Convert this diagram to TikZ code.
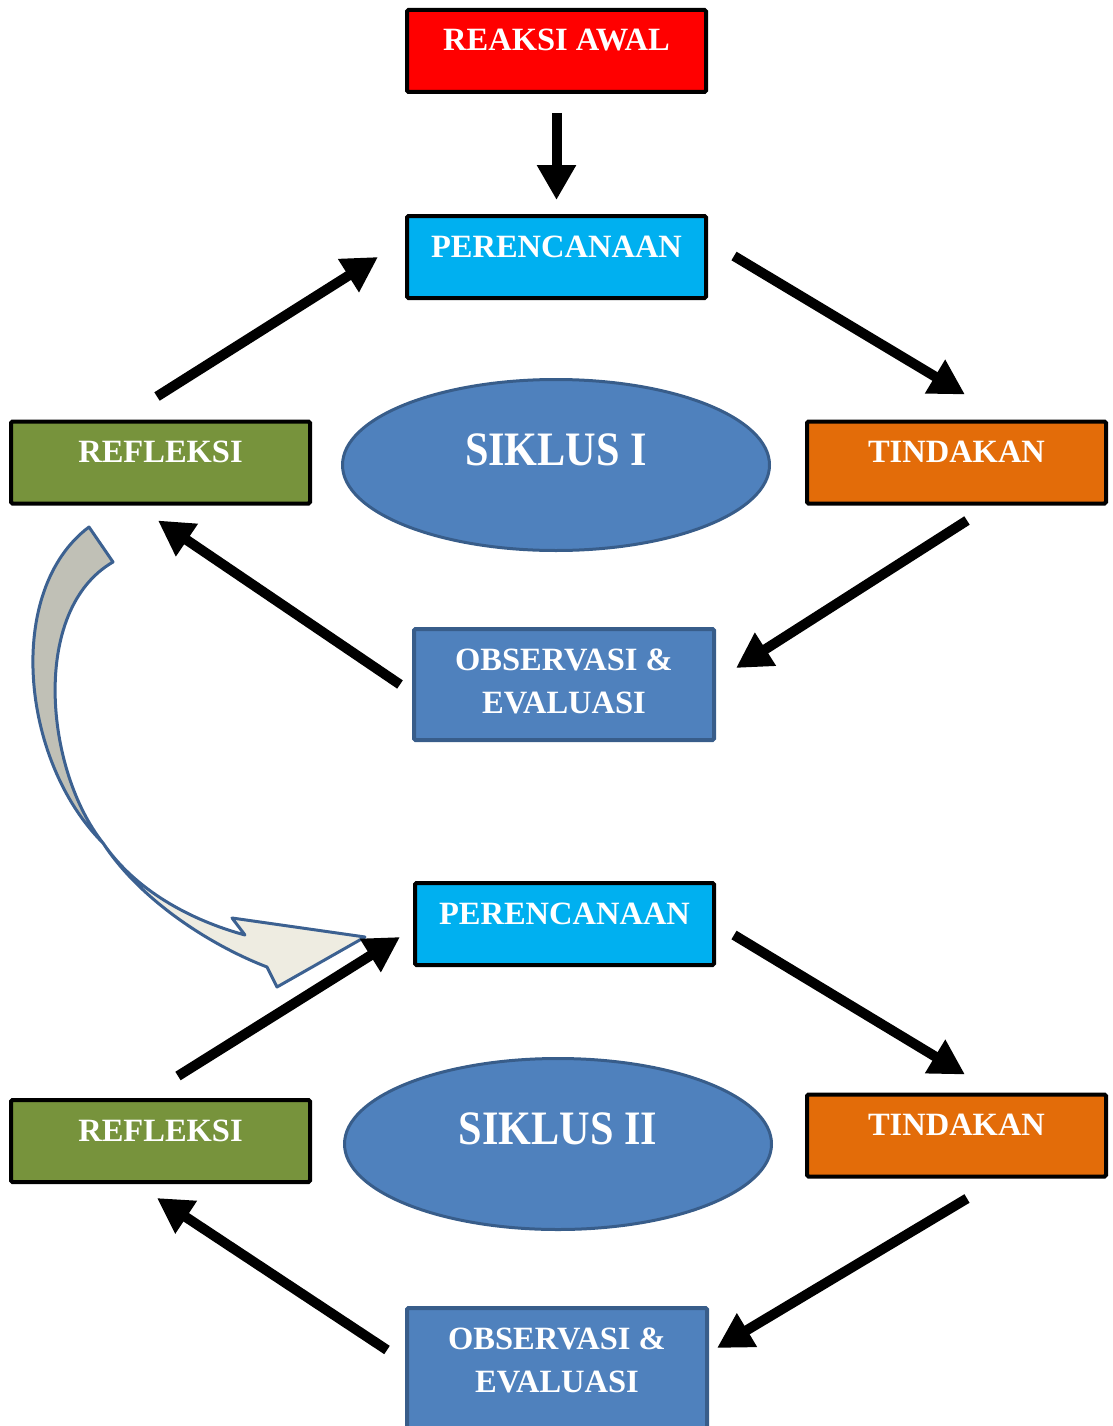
\documentclass[tikz,border=0pt]{standalone}
\usepackage{fontspec}
\setmainfont{Liberation Serif}
\usetikzlibrary{arrows.meta,shapes.geometric,calc}
\definecolor{cRed}{HTML}{FF0000}
\definecolor{cCyan}{HTML}{00B0F0}
\definecolor{cGreen}{HTML}{77933C}
\definecolor{cOrange}{HTML}{E36C09}
\definecolor{cBlue}{HTML}{4F81BD}
\definecolor{cDark}{HTML}{385D8A}
\definecolor{cBend}{HTML}{3C6191}
\definecolor{cGrey}{RGB}{192,192,182}
\definecolor{cBeige}{HTML}{EEECE1}
\begin{document}
\begin{tikzpicture}[x=1pt,y=-1pt,
  box/.style={draw=black,line width=4pt,rounded corners=1.5pt,minimum width=299pt,minimum height=82pt,inner sep=0pt,text height=0pt,text depth=0pt,text=white,font=\fontsize{32.5}{38}\selectfont\bfseries},
  obsbox/.style={draw=cDark,fill=cBlue,line width=4pt,rounded corners=1.5pt,minimum width=300pt,inner sep=0pt,align=center,text=white,font=\fontsize{32.5}{43}\selectfont\bfseries},
  cyc/.style={ellipse,draw=cDark,fill=cBlue,line width=3pt,minimum width=427pt,minimum height=171pt,inner sep=0pt,text height=0pt,text depth=0pt,text=white,font=\fontsize{48}{56}\selectfont\bfseries},
  flow/.style={line width=10pt,-{Triangle[length=35pt,width=37pt]}},
  curvearrow/.style={draw=cBend,line width=3pt,line join=round}
]
\useasboundingbox (0,0) rectangle (1112,1426);

% cycle I
\node[box,fill=cRed] (rea) at (556.5,51) {REAKSI AWAL};
\node[box,fill=cCyan] (p1) at (556.5,257) {PERENCANAAN};
\node[box,fill=cGreen] (r1) at (160.5,462.5) {REFLEKSI};
\node[box,fill=cOrange] (t1) at (956.5,462.5) {TINDAKAN};
\node[cyc] (s1) at (556,465) {\scalebox{0.88}[1]{SIKLUS I}};
\node[obsbox,minimum height=111pt] (o1) at (564,684.5) {OBSERVASI \&\\EVALUASI\rule[-7pt]{0pt}{0pt}};

% cycle II
\node[box,fill=cCyan] (p2) at (564.5,924) {PERENCANAAN};
\node[box,fill=cGreen] (r2) at (160.5,1141) {REFLEKSI};
\node[box,fill=cOrange] (t2) at (956.5,1135.5) {TINDAKAN};
\node[cyc] (s2) at (558,1144) {\scalebox{0.88}[1]{SIKLUS II}};
\node[obsbox,minimum height=130pt] (o2) at (557,1373) {OBSERVASI \&\\EVALUASI\rule[-26pt]{0pt}{0pt}};

% curved transition arrow
\filldraw[curvearrow,fill=cGrey] (89,527) .. controls (5,590) and (20,760) .. (103,843)
  .. controls (45,770) and (30,610) .. (113,562) -- cycle;
\filldraw[curvearrow,fill=cBeige] (103,843) .. controls (140,900) and (210,945) .. (267,967)
  -- (277,987) -- (365,937) -- (232,918) -- (245,935)
  .. controls (190,920) and (135,890) .. (103,843) -- cycle;

% arrows
\draw[flow] ($(rea.south)+(0,19)$) -- ($(p1.north)+(0,-14)$);
\draw[flow] ($(r1.north)+(-3.5,-23)$) -- ($(p1.west)+(-27,0)$);
\draw[flow] ($(p1.east)+(26,-1)$) -- ($(t1.north)+(8.5,-25)$);
\draw[flow] ($(t1.south)+(10.5,15)$) -- ($(o1.east)+(20,-16.5)$);
\draw[flow] ($(o1.west)+(-12,0)$) -- ($(r1.south)+(-2.5,15)$);

\draw[flow] ($(r2.north)+(17.5,-22)$) -- ($(p2.west)+(-13,13)$);
\draw[flow] ($(p2.east)+(18,11)$) -- ($(t2.north)+(8.5,-18)$);
\draw[flow] ($(t2.south)+(10.5,20)$) -- ($(o2.east)+(8,-25)$);
\draw[flow] ($(o2.west)+(-18,-23)$) -- ($(r2.south)+(-3.5,14)$);
\end{tikzpicture}
\end{document}
